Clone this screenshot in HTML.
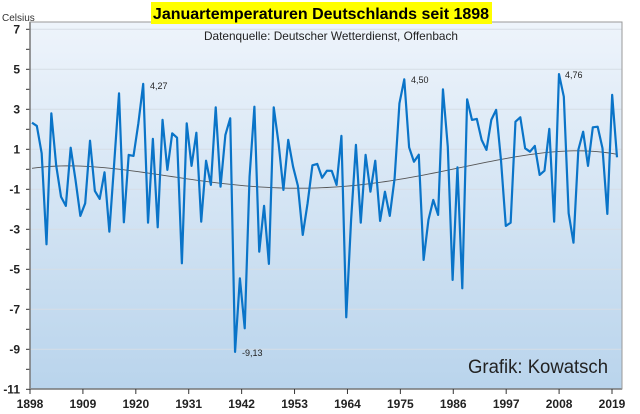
<!DOCTYPE html>
<html><head><meta charset="utf-8"><style>
body{margin:0;background:#fff;}
svg{display:block;font-family:"Liberation Sans",sans-serif;}
</style></head><body>
<svg width="640" height="414" viewBox="0 0 640 414">
<defs><linearGradient id="bg" x1="0" y1="0" x2="0" y2="1"><stop offset="0" stop-color="#eef4fb"/><stop offset="1" stop-color="#b9d4ec"/></linearGradient></defs>
<rect x="0" y="0" width="640" height="414" fill="#fff"/>
<rect x="30" y="22" width="592" height="367" fill="url(#bg)"/>
<g id="grid"></g>
<g id="trend"></g>
<g id="series"></g>
<g id="axes"></g>
<rect x="151" y="2" width="341" height="22" fill="#ffff00"/>
<text x="321" y="19" text-anchor="middle" font-size="16" font-weight="bold">Januartemperaturen Deutschlands seit 1898</text>
<text x="2" y="21" font-size="10" fill="#333">Celsius</text>
<text x="331" y="40" text-anchor="middle" font-size="12" fill="#222" textLength="254" lengthAdjust="spacingAndGlyphs">Datenquelle: Deutscher Wetterdienst, Offenbach</text>
<text x="468" y="373" font-size="19" fill="#222" textLength="140" lengthAdjust="spacingAndGlyphs">Grafik: Kowatsch</text>
<text x="150" y="89" font-size="9" fill="#222">4,27</text>
<text x="242" y="356" font-size="9" fill="#222">-9,13</text>
<text x="411" y="83" font-size="9" fill="#222">4,50</text>
<text x="565" y="78" font-size="9" fill="#222">4,76</text>
</svg>
<script>
const startYear = 1898;
const temps = [2.33,2.17,0.8,-3.75,2.8,0.2,-1.37,-1.83,1.08,-0.53,-2.33,-1.7,1.43,-1.08,-1.48,-0.15,-3.12,0.3,3.8,-2.65,0.72,0.67,2.3,4.27,-2.67,1.52,-2.9,2.47,-0.03,1.8,1.58,-4.7,2.3,0.17,1.83,-2.62,0.43,-0.78,3.1,-0.87,1.72,2.55,-9.13,-5.45,-7.95,-0.37,3.13,-4.12,-1.83,-4.73,3.1,1.3,-1.03,1.47,0.13,-0.83,-3.28,-1.7,0.2,0.27,-0.42,-0.07,-0.08,-0.78,1.67,-7.4,-2.53,1.22,-2.67,0.72,-1.12,0.43,-2.58,-1.12,-2.33,-0.45,3.3,4.5,1.1,0.38,0.73,-4.53,-2.53,-1.53,-2.28,4.0,1.13,-5.53,0.1,-5.95,3.5,2.47,2.52,1.47,0.97,2.47,2.97,0.47,-2.83,-2.67,2.38,2.6,1.05,0.88,1.17,-0.28,-0.07,2.02,-2.62,4.76,3.63,-2.2,-3.67,0.97,1.88,0.17,2.1,2.13,1.05,-2.23,3.72,0.6];
const yTicks = [7,5,3,1,-1,-3,-5,-7,-9,-11];
const xTickYears = [1898,1909,1920,1931,1942,1953,1964,1975,1986,1997,2008,2019];
const NS="http://www.w3.org/2000/svg";
const xs = i => 32 + i*(585/(temps.length-1));
const ys = v => 149.3 - (v-1)*20;
function mk(tag, attrs, parent){const e=document.createElementNS(NS,tag);for(const k in attrs)e.setAttribute(k,attrs[k]);parent.appendChild(e);return e;}
const grid=document.getElementById('grid'), axes=document.getElementById('axes');
yTicks.forEach(v=>{
  if(v!==-11){const g=mk('line',{x1:30,x2:622,y1:ys(v),y2:ys(v),stroke:'#d6dde6','stroke-width':1},grid);
  
  }
  const t=mk('text',{x:20,y:ys(v)+4,'text-anchor':'end','font-size':12,'font-weight':'bold',fill:'#222'},axes);t.textContent=v;
  
  
});
for(let v=7;v>=-11;v--){mk('line',{x1:26,x2:30,y1:ys(v),y2:ys(v),stroke:'#333'},axes);}
mk('line',{x1:30,x2:30,y1:22,y2:389,stroke:'#333','stroke-width':1.5},axes);
mk('line',{x1:30,x2:622,y1:389,y2:389,stroke:'#333','stroke-width':1.5},axes);
mk('rect',{x:30,y:22,width:592,height:367,fill:'none',stroke:'#999'},axes);
xTickYears.forEach(y=>{
  const x=30+(y-startYear)*(582/121);
  mk('line',{x1:x,x2:x,y1:389,y2:394,stroke:'#333'},axes);
  const t=mk('text',{x:x,y:408,'text-anchor':'middle','font-size':12,'font-weight':'bold',fill:'#222'},axes);t.textContent=y;
  
  
});
const sp=mk('polyline',{points:temps.map((v,i)=>xs(i)+','+ys(v)).join(' '),fill:'none',stroke:'#0a74c8','stroke-width':2.2,'stroke-linejoin':'round'},document.getElementById('series'));


// polynomial trendline (degree 4) least squares
const n=temps.length,deg=4;const u=i=>(i-(n-1)/2)/((n-1)/2);
const A=[],b=[];for(let r=0;r<=deg;r++){A.push(new Array(deg+1).fill(0));b.push(0);}
for(let i=0;i<n;i++){const t=u(i);for(let r=0;r<=deg;r++){for(let c=0;c<=deg;c++)A[r][c]+=Math.pow(t,r+c);b[r]+=temps[i]*Math.pow(t,r);}}
for(let c=0;c<=deg;c++){let p=c;for(let r=c+1;r<=deg;r++)if(Math.abs(A[r][c])>Math.abs(A[p][c]))p=r;[A[c],A[p]]=[A[p],A[c]];[b[c],b[p]]=[b[p],b[c]];
 for(let r=0;r<=deg;r++){if(r===c)continue;const f=A[r][c]/A[c][c];for(let k=c;k<=deg;k++)A[r][k]-=f*A[c][k];b[r]-=f*b[c];}}
const coef=b.map((v,i)=>v/A[i][i]);
const tp=[];for(let i=0;i<n;i++){const t=u(i);let s=0;coef.forEach((c,k)=>s+=c*Math.pow(t,k));tp.push(xs(i)+','+ys(s));}
const tl=mk('polyline',{points:tp.join(' '),fill:'none',stroke:'#555','stroke-width':0.9},document.getElementById('trend'));


</script>
</body></html>
